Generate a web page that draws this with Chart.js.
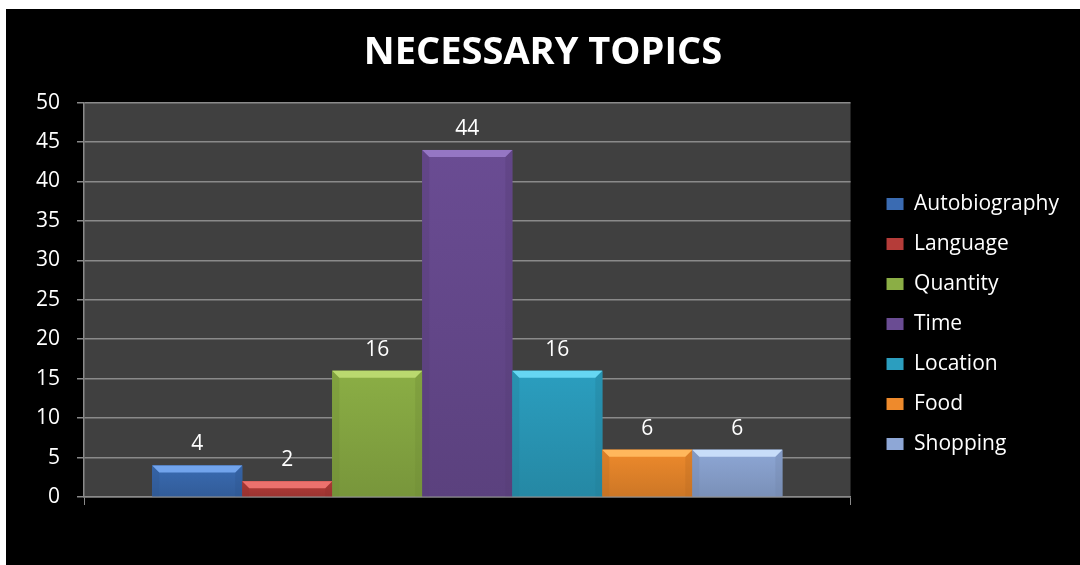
<!DOCTYPE html>
<html>
<head>
<meta charset="utf-8">
<script src="https://cdn.jsdelivr.net/npm/chart.js@4.4.1/dist/chart.umd.min.js"></script>
<style>
  html, body { margin: 0; padding: 0; background: #ffffff; width: 1080px; height: 565px; overflow: hidden; }
  #wrap { position: absolute; left: 6px; top: 9px; width: 1074px; height: 556px; background: #000000; }
</style>
</head>
<body>
<div id="wrap"><canvas id="c"></canvas></div>
<script>
const titleText = 'NECESSARY TOPICS';
const categories = [''];
const seriesNames = ['Autobiography', 'Language', 'Quantity', 'Time', 'Location', 'Food', 'Shopping'];
const seriesValues = [4, 2, 16, 44, 16, 6, 6];
const bodyColors = ['#3a6bb2', '#b53c39', '#8bae45', '#6a4c93', '#2b9ebf', '#ee8a2c', '#8ea7d6'];
const topColors  = ['#72a4ec', '#ec716d', '#bad96f', '#9576c4', '#66d6f2', '#ffb75c', '#c8ddf9'];
const yMin = 0, yMax = 50, yStep = 5;

const FONT = "'Open Sans', 'Noto Sans', sans-serif";
const LEGEND_EXTRA_WIDTH = 15, LEGEND_SHIFT_X = 17, LEGEND_SHIFT_Y = 67;

const datasets = seriesNames.map((name, i) => ({
  label: name,
  data: [seriesValues[i]],
  backgroundColor: bodyColors[i],
  borderWidth: 0,
  categoryPercentage: 0.822,
  barPercentage: 1.0
}));

const plotBg = {
  id: 'plotBg',
  beforeDraw(chart) {
    const { ctx, chartArea: a } = chart;
    ctx.save();
    ctx.fillStyle = '#404040';
    ctx.fillRect(a.left, a.top, a.right - a.left, a.bottom - a.top);
    ctx.restore();
  }
};

function shade(hex, f) {
  const n = parseInt(hex.slice(1), 16);
  let r = (n >> 16) & 255, g = (n >> 8) & 255, b = n & 255;
  r = Math.round(r * f); g = Math.round(g * f); b = Math.round(b * f);
  return 'rgb(' + r + ',' + g + ',' + b + ')';
}

const bevel = {
  id: 'bevel',
  afterDatasetsDraw(chart) {
    const ctx = chart.ctx;
    chart.data.datasets.forEach((ds, i) => {
      const meta = chart.getDatasetMeta(i);
      if (meta.hidden) return;
      meta.data.forEach(el => {
        const { x, y, base, width } = el.getProps(['x', 'y', 'base', 'width'], true);
        const l = x - width / 2, r = x + width / 2;
        const h = base - y;
        ctx.save();
        const g = ctx.createLinearGradient(0, y, 0, base);
        g.addColorStop(0, bodyColors[i]);
        g.addColorStop(1, shade(bodyColors[i], 0.86));
        ctx.fillStyle = g;
        ctx.fillRect(l, y, width, h);
        const bw = Math.min(7, h / 2);
        ctx.fillStyle = shade(bodyColors[i], 0.8);
        ctx.globalAlpha = 0.35;
        ctx.beginPath();
        ctx.moveTo(l, y); ctx.lineTo(l + bw, y + bw); ctx.lineTo(l + bw, base); ctx.lineTo(l, base); ctx.closePath();
        ctx.fill();
        ctx.beginPath();
        ctx.moveTo(r, y); ctx.lineTo(r - bw, y + bw); ctx.lineTo(r - bw, base); ctx.lineTo(r, base); ctx.closePath();
        ctx.fill();
        ctx.globalAlpha = 1;
        ctx.fillStyle = topColors[i];
        ctx.beginPath();
        ctx.moveTo(l, y); ctx.lineTo(r, y); ctx.lineTo(r - bw, y + bw); ctx.lineTo(l + bw, y + bw); ctx.closePath();
        ctx.fill();
        ctx.restore();
      });
    });
  }
};

const valueLabels = {
  id: 'valueLabels',
  afterDatasetsDraw(chart) {
    const ctx = chart.ctx;
    ctx.save();
    ctx.fillStyle = '#ffffff';
    ctx.font = '21px ' + FONT;
    ctx.textAlign = 'center';
    ctx.textBaseline = 'middle';
    chart.data.datasets.forEach((ds, i) => {
      const meta = chart.getDatasetMeta(i);
      meta.data.forEach((el, j) => {
        ctx.fillText(String(ds.data[j]), el.x, el.y - 21);
      });
    });
    ctx.restore();
  }
};

// widen the legend box and shift its drawing to sit where the original legend sits
const legendShift = {
  id: 'legendShift',
  afterInit(chart) {
    const lg = chart.legend;
    if (!lg || lg._shifted) return;
    const origFit = lg.fit.bind(lg);
    lg.fit = function () {
      origFit();
      this.width += LEGEND_EXTRA_WIDTH;
    };
    const origDraw = lg.draw.bind(lg);
    lg.draw = function () {
      const ctx = chart.ctx;
      ctx.save();
      ctx.translate(LEGEND_SHIFT_X, LEGEND_SHIFT_Y);
      origDraw();
      ctx.restore();
    };
    lg._shifted = true;
  }
};

new Chart(document.getElementById('c'), {
  type: 'bar',
  data: { labels: categories, datasets },
  plugins: [plotBg, bevel, valueLabels, legendShift],
  options: {
    responsive: true,
    maintainAspectRatio: false,
    animation: false,
    layout: { padding: { left: 13, right: 13, top: 0, bottom: 60 } },
    plugins: {
      title: {
        display: true,
        text: titleText,
        color: '#ffffff',
        font: { family: FONT, size: 38, weight: 'bold' },
        padding: { top: 21, bottom: 27 }
      },
      legend: {
        position: 'right',
        labels: {
          color: '#ffffff',
          font: { family: FONT, size: 21 },
          boxWidth: 17,
          boxHeight: 12,
          padding: 19
        }
      },
      tooltip: { enabled: false }
    },
    scales: {
      x: {
        grid: { display: true, drawOnChartArea: false, color: '#8a8a8a', tickLength: 8, offset: true },
        border: { color: '#8a8a8a', width: 1.5 },
        ticks: { display: false }
      },
      y: {
        min: yMin, max: yMax,
        ticks: { stepSize: yStep, color: '#ffffff', font: { family: FONT, size: 21 }, padding: 17 },
        grid: { color: '#8a8a8a', lineWidth: 1.5, tickLength: 7 },
        border: { color: '#8a8a8a', width: 1.5 }
      }
    }
  }
});
</script>
</body>
</html>
